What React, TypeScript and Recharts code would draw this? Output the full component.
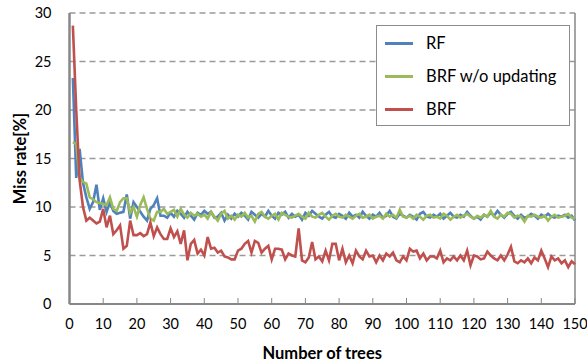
import React from 'react';
import { LineChart, Line, XAxis, YAxis, CartesianGrid, ReferenceLine } from 'recharts';

const trees: number[] = Array.from({ length: 150 }, (_, i) => i + 1);

const rf: number[] = [
  23.3, 13.0, 16.0, 12.5, 11.0, 9.8, 10.5, 12.3, 9.7, 10.9,
  9.5, 10.5, 9.6, 9.3, 9.4, 9.5, 11.3, 8.8, 10.5, 10.0,
  9.5, 9.0, 8.6, 9.8, 10.2, 10.9, 9.1, 9.1, 8.9, 9.4,
  9.0, 9.6, 9.3, 8.9, 9.5, 9.1, 8.7, 9.4, 9.2, 9.6,
  9.3, 9.5, 8.9, 9.0, 9.4, 8.6, 9.2, 8.8, 9.3, 9.0,
  9.4, 9.1, 8.7, 9.5, 9.2, 8.9, 9.3, 9.0, 9.6, 9.1,
  8.8, 9.4, 9.2, 9.5, 8.9, 9.3, 9.0, 9.2, 8.7, 9.4,
  9.1, 9.6, 9.3, 9.0, 8.8, 9.2, 9.5, 9.0, 8.9, 9.3,
  9.1, 8.8, 9.4, 9.0, 9.2, 8.9, 9.5, 9.1, 8.8, 9.2,
  9.0, 9.4, 8.9, 9.1, 9.6, 9.0, 8.8, 9.3, 9.1, 8.9,
  9.2, 9.0, 8.7, 9.3, 9.5, 9.0, 8.9, 9.2, 9.0, 9.3,
  8.8, 9.1, 9.4, 9.0, 8.9, 9.2, 9.0, 9.5, 9.1, 8.8,
  9.0, 8.7, 9.2, 9.0, 9.4, 9.1, 9.6, 9.2, 8.9, 9.3,
  9.5, 9.1, 8.8, 9.2, 8.9, 9.0, 9.3, 9.1, 8.8, 9.2,
  9.0, 9.3, 9.0, 8.9, 9.1, 9.0, 9.2, 8.9, 9.1, 8.6,
];

const brfNoUpdate: number[] = [
  16.7, 16.5, 13.0, 12.6, 12.4, 11.0, 10.8, 10.5, 10.4, 10.3,
  10.2, 11.0, 9.8, 9.6, 10.5, 10.9, 10.9, 9.4, 10.0, 9.0,
  10.2, 11.0, 9.8, 8.8, 8.6, 9.5, 9.5, 9.8, 9.3, 9.5,
  9.7, 9.0, 9.8, 9.2, 8.9, 9.4, 9.1, 9.3, 9.0, 9.2,
  8.8, 9.5, 9.0, 8.6, 9.3, 9.6, 8.8, 9.1, 8.7, 9.2,
  9.0, 9.4, 8.9, 9.1, 8.5, 9.3, 9.5, 9.0, 8.8, 9.1,
  9.3, 8.7, 9.4, 9.2, 9.0, 8.9, 9.1, 9.3, 9.0, 8.8,
  9.4, 9.0, 8.9, 9.2, 9.4, 9.0, 8.7, 9.1, 9.3, 9.0,
  8.9, 9.2, 9.0, 8.8, 9.1, 9.3, 8.9, 9.0, 9.2, 8.8,
  9.0, 9.1, 8.8, 9.3, 9.0, 9.2, 8.9, 9.7, 9.0, 8.9,
  9.1, 8.8, 9.2, 9.0, 8.7, 9.1, 9.2, 8.9, 9.0, 8.8,
  9.3, 9.1, 8.7, 9.0, 9.2, 8.9, 9.1, 9.3, 9.0, 8.8,
  9.1, 8.9, 9.2, 9.0, 9.6, 9.0, 8.8, 9.2, 9.0, 9.4,
  9.3, 8.9, 9.1, 9.0, 8.5, 9.1, 9.0, 9.2, 9.0, 8.9,
  9.1, 8.6, 9.0, 9.2, 8.9, 9.0, 9.1, 9.3, 8.9, 8.8,
];

const brf: number[] = [
  28.7, 20.0, 12.8, 10.0, 8.6, 8.9, 8.6, 8.3, 8.5, 9.8,
  7.9, 9.1, 7.2, 7.6, 8.1, 5.7, 6.0, 8.6, 7.1, 7.1,
  7.3, 7.0, 7.2, 8.4, 7.0, 7.9, 7.2, 6.7, 6.7, 7.8,
  6.9, 7.5, 6.2, 7.6, 4.5, 6.2, 6.6, 5.2, 5.6, 5.0,
  6.9, 5.7, 5.8, 5.3, 5.5, 4.9, 4.8, 4.6, 4.6, 5.5,
  5.7, 6.2, 6.5, 5.3, 6.5, 6.3, 5.3, 5.7, 6.0, 4.6,
  5.7, 5.7, 5.6, 4.6, 5.2, 5.0, 4.9, 7.8, 4.5, 4.3,
  4.8, 6.4, 4.6, 4.9, 4.4, 5.5, 4.5, 6.2, 6.2, 4.5,
  5.7, 4.3, 5.0, 4.2, 5.5, 4.9, 4.6, 5.5, 4.9, 5.0,
  4.3, 5.0, 4.5, 5.2, 4.9, 5.3, 4.5, 4.3, 4.9, 4.5,
  5.7, 5.4, 5.5, 4.7, 5.2, 4.5, 4.9, 4.9, 4.7, 5.5,
  4.3, 4.7, 4.5, 4.9, 4.5, 5.0, 4.5, 5.5, 4.0, 5.0,
  4.9, 4.6, 4.7, 5.4, 5.0, 4.7, 4.5, 5.0, 4.5, 5.1,
  5.9, 4.4, 4.2, 4.5, 4.3, 4.7, 4.2, 4.8, 4.5, 5.5,
  4.7, 3.8, 4.9, 4.5, 4.7, 4.2, 4.5, 3.8, 4.4, 4.1,
];

const xTicks: number[] = [0, 10, 20, 30, 40, 50, 60, 70, 80, 90, 100, 110, 120, 130, 140, 150];
const yTicks: number[] = [0, 5, 10, 15, 20, 25, 30];

const seriesNames = ['RF', 'BRF w/o updating', 'BRF'];
const colors = ['#4F81BD', '#9BBB59', '#C0504D'];

const data = trees.map((t, i) => ({ t, rf: rf[i], nou: brfNoUpdate[i], brf: brf[i] }));

const FONT = 'Lato, "Liberation Sans", sans-serif';
const AXIS_COLOR = '#878787';

const XTick = (props: any) => {
  const { x, y, payload } = props;
  return (
    <g>
      <line x1={x} x2={x} y1={y - 6} y2={y} stroke={AXIS_COLOR} strokeWidth={1} />
      <text x={x} y={y + 25} textAnchor="middle" fill="#000" fontSize={14.5} fontFamily={FONT}>
        {payload.value}
      </text>
    </g>
  );
};

const YTick = (props: any) => {
  const { x, y, payload } = props;
  return (
    <text x={x} y={y + 5} textAnchor="end" fill="#000" fontSize={14.5} fontFamily={FONT}>
      {payload.value}
    </text>
  );
};

export default function App() {
  return (
    <div style={{ position: 'absolute', left: 0, top: 0, width: 587, height: 363, background: '#fff' }}>
      <LineChart width={587} height={363} data={data} margin={{ top: 13, right: 12, bottom: 0, left: 0 }}>
        <CartesianGrid vertical={false} stroke="#9a9a9a" strokeDasharray="6 4" strokeWidth={1.5} />
        <XAxis
          dataKey="t"
          type="number"
          domain={[0, 150]}
          ticks={xTicks}
          interval={0}
          height={59}
          tickLine={false}
          tickSize={0}
          tickMargin={0}
          axisLine={{ stroke: AXIS_COLOR, strokeWidth: 2 }}
          tick={<XTick />}
          label={{ value: 'Number of trees', position: 'insideBottom', offset: 4, fontSize: 16.5, fontWeight: 'bold', fill: '#000', fontFamily: FONT }}
        />
        <YAxis
          type="number"
          domain={[0, 30]}
          ticks={yTicks}
          interval={0}
          width={69.5}
          tickLine={false}
          tickSize={0}
          tickMargin={18}
          axisLine={{ stroke: AXIS_COLOR, strokeWidth: 2.5 }}
          tick={<YTick />}
          label={{ value: 'Miss rate[%]', angle: -90, position: 'insideLeft', offset: 20, style: { textAnchor: 'middle' }, fontSize: 16.5, fontWeight: 'bold', fill: '#000', fontFamily: FONT }}
        />
        <ReferenceLine x={150} stroke={AXIS_COLOR} strokeWidth={1.5} />
        <Line type="linear" dataKey="rf" name={seriesNames[0]} stroke={colors[0]} strokeWidth={2.6} dot={false} isAnimationActive={false} />
        <Line type="linear" dataKey="nou" name={seriesNames[1]} stroke={colors[1]} strokeWidth={2.6} dot={false} isAnimationActive={false} />
        <Line type="linear" dataKey="brf" name={seriesNames[2]} stroke={colors[2]} strokeWidth={2.6} dot={false} isAnimationActive={false} />
      </LineChart>
      <div
        style={{
          position: 'absolute',
          left: 376,
          top: 25,
          width: 192,
          height: 99,
          border: '1px solid #8c8c8c',
          background: '#fff',
          fontFamily: FONT,
          fontSize: 16.5,
        }}
      >
        {seriesNames.map((n, i) => (
          <div key={n} style={{ position: 'absolute', left: 0, top: 6 + i * 33, height: 22, display: 'flex', alignItems: 'center' }}>
            <div style={{ marginLeft: 8, width: 28, height: 3, background: colors[i] }} />
            <span style={{ marginLeft: 13, color: '#000' }}>{n}</span>
          </div>
        ))}
      </div>
    </div>
  );
}
